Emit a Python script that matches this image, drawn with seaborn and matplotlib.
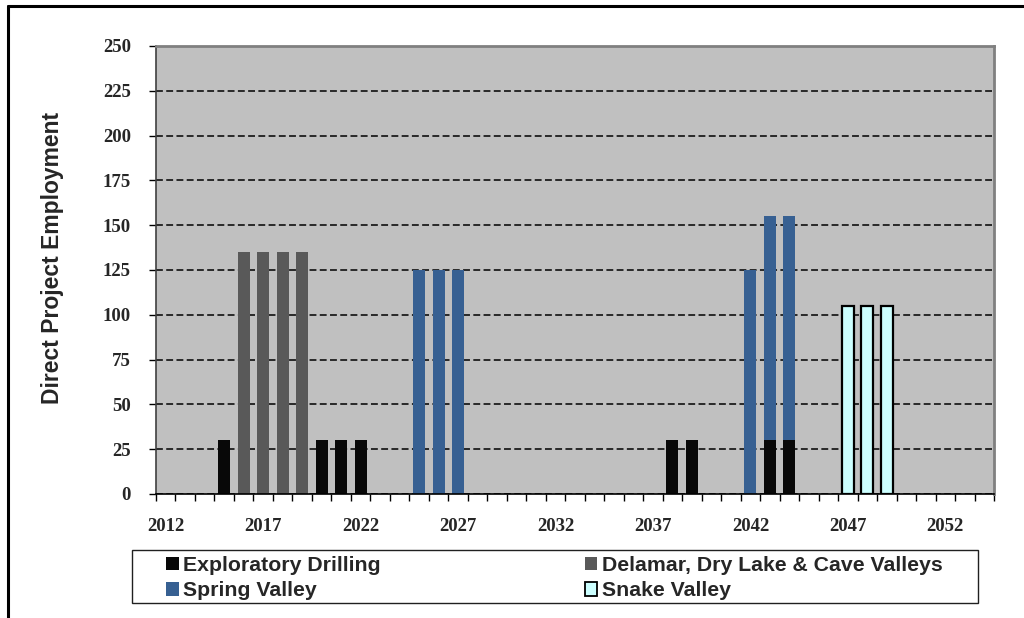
import numpy as np
import pandas as pd
import matplotlib
matplotlib.use("Agg")
import matplotlib.pyplot as plt
from matplotlib.patches import Patch, Rectangle
from matplotlib.lines import Line2D
import seaborn as sns

# ---------------- data ----------------
years = [str(y) for y in range(2012, 2055)]
x_tick_labels = ["2012", "2017", "2022", "2027", "2032", "2037", "2042", "2047", "2052"]
y_ticks = [0, 25, 50, 75, 100, 125, 150, 175, 200, 225, 250]

series_names = ["Exploratory Drilling", "Delamar, Dry Lake & Cave Valleys",
                "Spring Valley", "Snake Valley"]

expl_years = ["2015", "2020", "2021", "2022", "2038", "2039", "2043", "2044"]
expl_vals = [30, 30, 30, 30, 30, 30, 30, 30]

delamar_years = ["2016", "2017", "2018", "2019"]
delamar_vals = [135, 135, 135, 135]

spring_years = ["2025", "2026", "2027", "2042", "2043", "2044"]
spring_vals = [125, 125, 125, 125, 125, 125]

snake_years = ["2047", "2048", "2049"]
snake_vals = [105, 105, 105]

colors = {"expl": "#080808", "delamar": "#595959", "spring": "#376092", "snake": "#CCFFFF"}

# ---------------- frames ----------------
expl_df = pd.DataFrame({"year": expl_years, "value": expl_vals})
delamar_df = pd.DataFrame({"year": delamar_years, "value": delamar_vals})
spring_df = pd.DataFrame({"year": spring_years, "value": spring_vals})
snake_df = pd.DataFrame({"year": snake_years, "value": snake_vals})
# stacked: spring sits on top of exploratory drilling
expl_map = dict(zip(expl_years, expl_vals))
spring_df["top"] = spring_df["value"] + spring_df["year"].map(expl_map).fillna(0)

sns.set_style("ticks")
plt.rcParams["font.family"] = ["Liberation Sans", "DejaVu Sans"]

fig = plt.figure(figsize=(10.24, 6.18), dpi=100)
ax = fig.add_axes([156 / 1024, 1 - 494 / 618, (994 - 156) / 1024, (494 - 46) / 618])
ax.set_facecolor("#C0C0C0")

bw = 0.62
common = dict(x="year", order=years, width=bw, saturation=1, errorbar=None, ax=ax)
sns.barplot(data=delamar_df, y="value", color=colors["delamar"], linewidth=0, **common)
sns.barplot(data=spring_df, y="top", color=colors["spring"], linewidth=0, **common)
sns.barplot(data=expl_df, y="value", color=colors["expl"], linewidth=0, **common)
sns.barplot(data=snake_df, y="value", color=colors["snake"], edgecolor="black",
            linewidth=1.6, **common)

# gridlines
ax.set_ylim(0, 250)
ax.set_xlim(-0.5, len(years) - 0.5)
ax.set_axisbelow(True)
ax.yaxis.grid(True, color="black", linestyle=(0, (4.5, 2.2)), linewidth=1.1)
ax.xaxis.grid(False)

# ticks
ax.set_yticks(y_ticks)
ax.set_yticklabels([str(v) for v in y_ticks])
major_pos = [years.index(l) for l in x_tick_labels]
ax.set_xticks(major_pos)
ax.set_xticklabels(x_tick_labels)
ax.set_xticks(np.arange(-0.5, len(years), 1), minor=True)
ax.tick_params(axis="x", which="major", length=0, pad=17)
ax.tick_params(axis="x", which="minor", length=5, width=1, color="black", direction="out")
ax.tick_params(axis="y", which="major", length=5, width=1, color="black", direction="out", pad=13)
for lab in ax.get_xticklabels() + ax.get_yticklabels():
    lab.set_family(["Liberation Serif", "DejaVu Serif"])
    lab.set_fontweight("bold")
    lab.set_fontsize(13.5)

ax.set_xlabel("")
ax.set_ylabel("Direct Project Employment", fontsize=16.5, fontweight="bold")
ax.yaxis.set_label_coords(-0.110, 0.528)

for side in ["top", "right"]:
    ax.spines[side].set_color("#808080")
    ax.spines[side].set_linewidth(2)
ax.spines["left"].set_color("#404040")
ax.spines["left"].set_linewidth(1.2)
ax.spines["bottom"].set_color("black")
ax.spines["bottom"].set_linewidth(1.2)

# legend
handles = [
    Patch(facecolor=colors["expl"], edgecolor="none"),
    Patch(facecolor=colors["delamar"], edgecolor="none"),
    Patch(facecolor=colors["spring"], edgecolor="none"),
    Patch(facecolor=colors["snake"], edgecolor="black", linewidth=1.3),
]
order_idx = [0, 2, 1, 3]
leg = fig.legend([handles[i] for i in order_idx], [series_names[i] for i in order_idx],
                 ncol=2, loc="upper left",
                 bbox_to_anchor=(166 / 1024, 1 - 556 / 618),
                 frameon=False,
                 handlelength=0.6, handleheight=0.6, handletextpad=0.2,
                 columnspacing=9.6, borderpad=0, borderaxespad=0, labelspacing=0.3,
                 prop={"family": "Liberation Sans", "weight": "bold", "size": 15.3})
fig.add_artist(Rectangle((132 / 1024, 1 - 603 / 618), (978 - 132) / 1024, (603 - 550) / 618,
                         transform=fig.transFigure, facecolor="none", edgecolor="#202020",
                         linewidth=1.0))

# outer chart frame (top and left edges)
fig.add_artist(Line2D([8 / 1024, 1.0], [1 - 6 / 618, 1 - 6 / 618], color="black",
                      linewidth=2.2, transform=fig.transFigure))
fig.add_artist(Line2D([8 / 1024, 8 / 1024], [0, 1 - 6 / 618], color="black",
                      linewidth=2.2, transform=fig.transFigure))

fig.savefig("out.png", dpi=100)
